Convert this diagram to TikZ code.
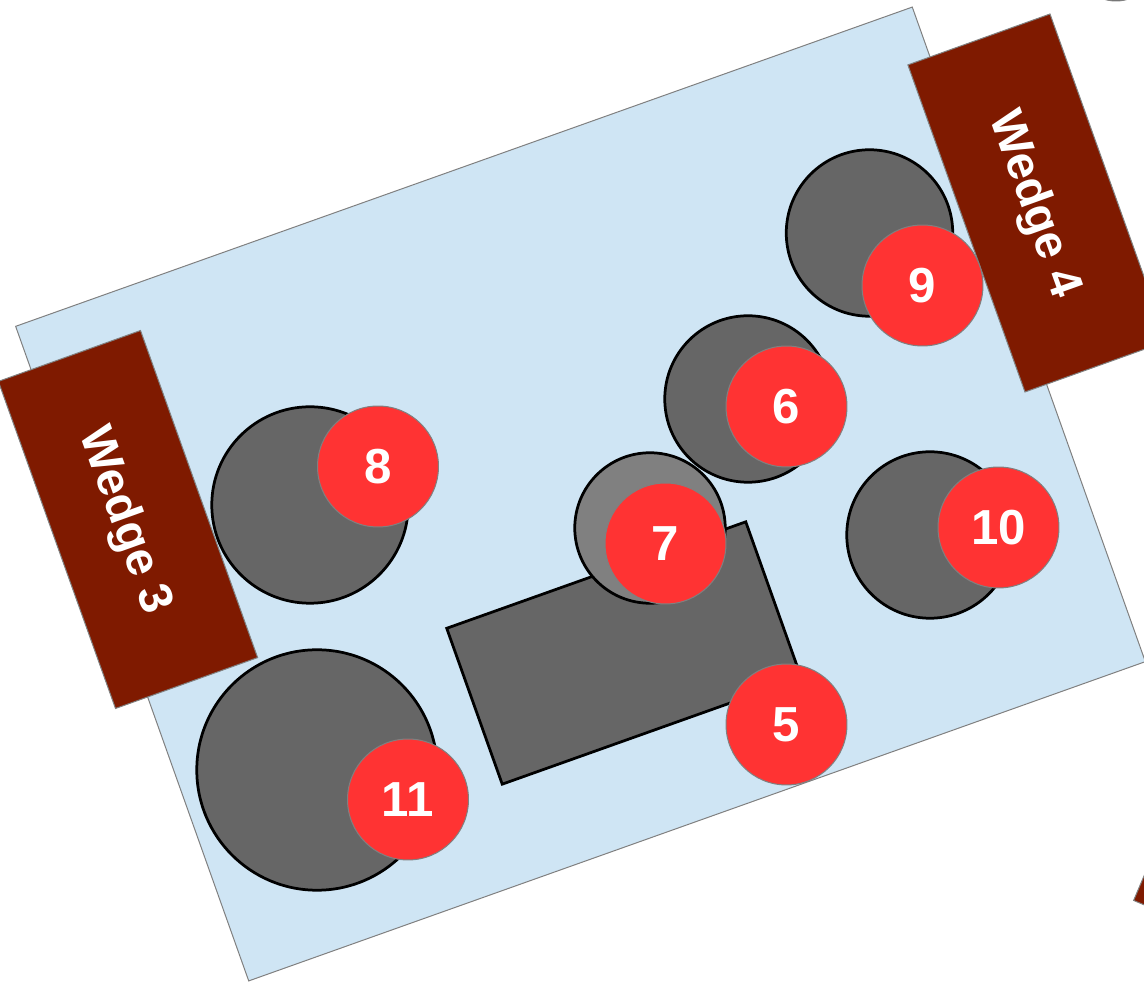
\documentclass[tikz,border=0pt]{standalone}
\usepackage{fontspec}
\setmainfont{Liberation Sans}
\definecolor{panelblue}{HTML}{CFE5F4}
\definecolor{wedgered}{HTML}{7F1A00}
\definecolor{ballred}{HTML}{FF3333}
\definecolor{holegray}{HTML}{666666}
\definecolor{holelight}{HTML}{808080}
\tikzset{
  panel/.style={draw=gray, line width=0.02cm, fill=panelblue, rotate=19.6, minimum width=19.04cm, minimum height=13.9cm},
  wedge/.style={draw=gray, line width=0.02cm, fill=wedgered, text=white, font=\bfseries\fontsize{27}{27}\selectfont, text depth=1pt, rotate=-70.3, minimum width=6.95cm, minimum height=3.02cm},
  hole/.style={circle, draw=black, line width=0.055cm, fill=holegray, inner sep=0pt},
  plate/.style={draw=black, line width=0.055cm, fill=holegray, rotate=19.6, minimum width=6.35cm, minimum height=3.31cm},
  ball/.style={circle, draw=gray, line width=0.02cm, fill=ballred, text=white, font=\bfseries\fontsize{28}{28}\selectfont, minimum size=2.42cm, inner sep=0pt}
}
\begin{document}
\begin{tikzpicture}[x=0.02cm, y=-0.02cm]
\useasboundingbox (0,0) rectangle (1144,982);
\node (board) at (580.5,494) [panel] {};
% off-page pieces
\node (rimtop) at (1116,-40) [circle, draw=gray, line width=0.02cm, fill=holegray, minimum size=1.64cm, inner sep=0pt] {};
\node (wedgeb) at (1271,770) [draw=gray, line width=0.02cm, fill=wedgered, rotate=67, minimum width=6.95cm, minimum height=3.02cm] {};
% wedges
\node (wedgec) at (128,519.5) [wedge] {Wedge 3};
\node (wedged) at (1037.5,203) [wedge] {Wedge 4};
% holes
\node (plate5) at (624,653) [plate] {};
\node (hole8) at (310,505) [hole, minimum size=3.93cm] {};
\node (hole11) at (317,770) [hole, minimum size=4.81cm] {};
\node (hole6) at (748,399) [hole, minimum size=3.33cm] {};
\node (hole7) at (650,528) [hole, fill=holelight, minimum size=3.01cm] {};
\node (hole9) at (869.5,233) [hole, minimum size=3.33cm] {};
\node (hole10) at (930,535) [hole, minimum size=3.33cm] {};
% numbers
\node (ball5) at (786.5,724.5) [ball] {5};
\node (ball6) at (786.5,406.5) [ball] {6};
\node (ball7) at (665.5,543.5) [ball] {7};
\node (ball8) at (378,466.5) [ball] {8};
\node (ball9) at (922.5,285.5) [ball] {9};
\node (ball10) at (998.5,527.5) [ball] {10};
\node (ball11) at (408,799.5) [ball] {11};
\end{tikzpicture}
\end{document}
